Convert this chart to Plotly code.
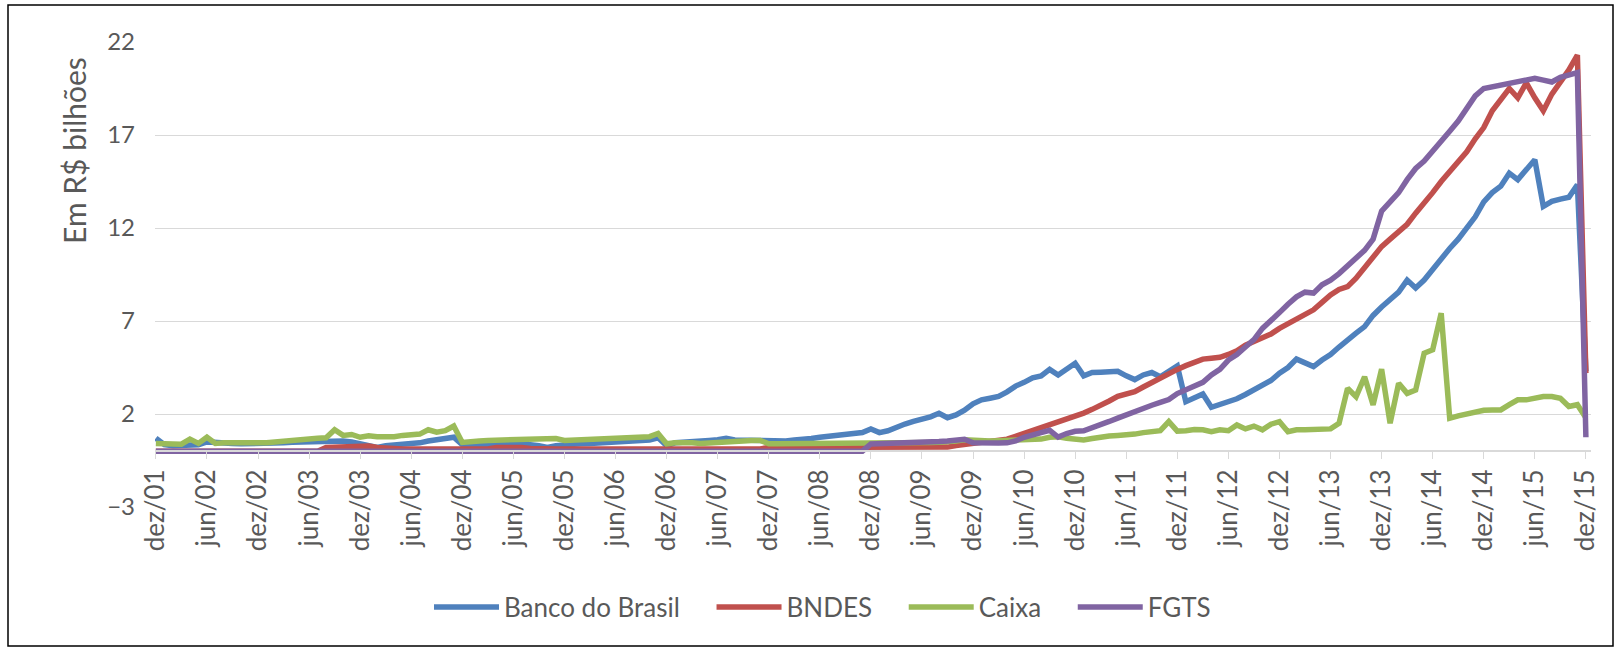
import plotly.graph_objects as go

# ---- categories (monthly, dez/01 .. dez/15) ----
month_abbr = ["jan", "fev", "mar", "abr", "mai", "jun", "jul", "ago", "set", "out", "nov", "dez"]
months = ["dez/01"] + [f"{m}/{y:02d}" for y in range(2, 16) for m in month_abbr]

tick_labels = ["dez/01", "jun/02", "dez/02", "jun/03", "dez/03", "jun/04", "dez/04", "jun/05",
               "dez/05", "jun/06", "dez/06", "jun/07", "dez/07", "jun/08", "dez/08", "jun/09",
               "dez/09", "jun/10", "dez/10", "jun/11", "dez/11", "jun/12", "dez/12", "jun/13",
               "dez/13", "jun/14", "dez/14", "jun/15", "dez/15"]

y_ticks = [-3, 2, 7, 12, 17, 22]

# ---- series values (R$ bilhões) ----
banco_do_brasil = [
    0.7, 0.35, 0.3, 0.3, 0.32, 0.35, 0.5, 0.45, 0.45, 0.42, 0.4, 0.4,
    0.4, 0.42, 0.45, 0.45, 0.48, 0.5, 0.52, 0.55, 0.55, 0.55, 0.55, 0.5,
    0.4, 0.35, 0.2, 0.3, 0.32, 0.35, 0.4, 0.45, 0.55, 0.62, 0.68, 0.75,
    0.35, 0.38, 0.4, 0.38, 0.35, 0.35, 0.35, 0.4, 0.35, 0.3, 0.2, 0.3,
    0.35, 0.38, 0.4, 0.42, 0.45, 0.48, 0.5, 0.5, 0.52, 0.55, 0.6, 0.72,
    0.3, 0.45, 0.5, 0.53, 0.55, 0.58, 0.62, 0.7, 0.6, 0.58, 0.58, 0.6,
    0.55, 0.5, 0.55, 0.6, 0.62, 0.68, 0.75, 0.8, 0.85, 0.93, 0.93, 1.0,
    1.19, 1.0, 1.1, 1.3, 1.46, 1.6, 1.72, 1.85, 2.04, 1.8, 1.95, 2.2,
    2.55, 2.76, 2.85, 2.95, 3.19, 3.5, 3.7, 3.95, 4.05, 4.4, 4.1, 4.4,
    4.73, 4.05, 4.23, 4.25, 4.25, 4.3, 4.05, 3.85, 4.1, 4.23, 4.0, 4.3,
    4.58, 2.66, 2.9, 3.08, 2.36, 2.5, 2.7, 2.82, 3.05, 3.3, 3.5, 3.8,
    4.2, 4.5, 4.95, 4.75, 4.55, 4.9, 5.2, 5.6, 6.0, 6.35, 6.7, 7.3,
    7.75, 8.2, 8.55, 9.2, 8.77, 9.2, 9.8, 10.35, 10.9, 11.4, 11.95, 12.6,
    13.4, 13.9, 14.25, 14.95, 14.6, 15.1, 15.67, 13.16, 13.43, 13.55, 13.65, 14.33,
    4.3,
]

bndes = [
    0, 0, 0, 0, 0, 0, 0, 0, 0, 0, 0, 0,
    0, 0, 0, 0, 0, 0, 0, 0, 0.2, 0.22, 0.2, 0.2,
    0.25, 0.28, 0.2, 0.15, 0.12, 0.12, 0.12, 0.12, 0.12, 0.12, 0.12, 0.12,
    0.12, 0.12, 0.12, 0.12, 0.2, 0.22, 0.2, 0.2, 0.15, 0.12, 0.12, 0.12,
    0.12, 0.12, 0.12, 0.12, 0.12, 0.12, 0.12, 0.12, 0.12, 0.12, 0.12, 0.12,
    0.12, 0.12, 0.12, 0.12, 0.12, 0.12, 0.12, 0.12, 0.12, 0.12, 0.12, 0.12,
    0.2, 0.2, 0.2, 0.2, 0.2, 0.2, 0.2, 0.2, 0.2, 0.2, 0.2, 0.2,
    0.22, 0.22, 0.22, 0.22, 0.22, 0.22, 0.22, 0.22, 0.22, 0.22, 0.3, 0.35,
    0.42, 0.48, 0.55, 0.6, 0.65, 0.8, 0.95, 1.1, 1.25, 1.4, 1.55, 1.7,
    1.85, 2.05, 2.25, 2.45, 2.7, 2.95, 3.1, 3.2, 3.45, 3.7, 3.95, 4.15,
    4.4, 4.6, 4.8, 4.95, 5.0, 5.05, 5.2, 5.4, 5.7, 5.9, 6.1, 6.3,
    6.6, 6.85, 7.05, 7.3, 7.6, 8.0, 8.4, 8.7, 8.85, 9.3, 9.9, 10.5,
    11.0, 11.4, 11.8, 12.2, 12.8, 13.3, 13.9, 14.5, 15.0, 15.5, 16.1, 16.8,
    17.4, 18.3, 18.9, 19.5, 19.0, 19.8, 19.0, 18.3, 19.2, 19.8, 20.5, 21.3,
    4.2,
]

caixa = [
    0.42, 0.4, 0.38, 0.38, 0.65, 0.42, 0.75, 0.42, 0.45, 0.45, 0.45, 0.42,
    0.42, 0.45, 0.5, 0.55, 0.58, 0.65, 0.68, 0.7, 0.72, 1.15, 0.85, 0.9,
    0.75, 0.83, 0.78, 0.75, 0.78, 0.85, 0.92, 0.92, 1.15, 1.02, 1.1, 1.35,
    0.47, 0.48, 0.55, 0.58, 0.6, 0.62, 0.62, 0.65, 0.68, 0.7, 0.66, 0.68,
    0.58, 0.6, 0.6, 0.62, 0.65, 0.68, 0.7, 0.72, 0.77, 0.77, 0.78, 0.95,
    0.4, 0.45, 0.47, 0.45, 0.42, 0.45, 0.5, 0.55, 0.58, 0.58, 0.58, 0.58,
    0.4, 0.4, 0.4, 0.4, 0.4, 0.4, 0.4, 0.4, 0.4, 0.4, 0.4, 0.4,
    0.4, 0.42, 0.42, 0.43, 0.44, 0.45, 0.46, 0.47, 0.48, 0.5, 0.55, 0.62,
    0.58, 0.55, 0.55, 0.56, 0.58, 0.6, 0.62, 0.64, 0.65, 0.75, 0.78, 0.7,
    0.62, 0.6, 0.68, 0.78, 0.82, 0.85, 0.87, 0.92, 1.0, 1.05, 1.1, 1.59,
    1.08, 1.1, 1.17, 1.15, 1.05, 1.15, 1.1, 1.41, 1.2, 1.35, 1.15, 1.45,
    1.59, 1.05, 1.15, 1.15, 1.15, 1.15, 1.2, 1.5, 3.38, 2.93, 4.0, 2.49,
    4.41, 1.5, 3.65, 3.11, 3.29, 5.27, 5.45, 7.42, 1.77, 1.9, 2.0, 2.1,
    2.2, 2.22, 2.22, 2.5, 2.76, 2.76, 2.85, 2.94, 2.94, 2.85, 2.4, 2.5,
    1.8,
]

fgts = [
    0, 0, 0, 0, 0, 0, 0, 0, 0, 0, 0, 0,
    0, 0, 0, 0, 0, 0, 0, 0, 0, 0, 0, 0,
    0, 0, 0, 0, 0, 0, 0, 0, 0, 0, 0, 0,
    0, 0, 0, 0, 0, 0, 0, 0, 0, 0, 0, 0,
    0, 0, 0, 0, 0, 0, 0, 0, 0, 0, 0, 0,
    0, 0, 0, 0, 0, 0, 0, 0, 0, 0, 0, 0,
    0, 0, 0, 0, 0, 0, 0, 0, 0, 0, 0, 0,
    0.39, 0.4, 0.4, 0.4, 0.41, 0.42, 0.45, 0.5, 0.52, 0.55, 0.6, 0.64,
    0.45, 0.43, 0.43, 0.44, 0.45, 0.55, 0.75, 0.9, 1.0, 1.12, 0.76, 0.95,
    1.07, 1.1, 1.25, 1.45, 1.6, 1.78, 1.97, 2.15, 2.3, 2.47, 2.62, 2.78,
    3.1, 3.3, 3.48, 3.7, 4.1, 4.4, 4.9, 5.2, 5.6, 6.0, 6.6, 7.0,
    7.45, 7.9, 8.3, 8.55, 8.5, 8.95, 9.2, 9.55, 9.95, 10.4, 10.8, 11.4,
    12.9, 13.4, 13.9, 14.6, 15.2, 15.6, 16.1, 16.7, 17.2, 17.75, 18.4, 19.1,
    19.5, 19.6, 19.7, 19.8, 19.9, 20.0, 20.05, 19.95, 19.85, 20.1, 20.2, 20.35,
    0.75,
]

series_names = ["Banco do Brasil", "BNDES", "Caixa", "FGTS"]
series_values = [banco_do_brasil, bndes, caixa, fgts]
series_colors = ["#4F81BD", "#C0504D", "#9BBB59", "#8064A2"]

FONT = "Lato"
TXT = "#595959"
PAD = "\u00a0" * 4  # spacing after each legend entry

fig = go.Figure()
for i, (name, vals, col) in enumerate(zip(series_names, series_values, series_colors)):
    label = name + (PAD if i < len(series_names) - 1 else "")
    fig.add_trace(go.Scatter(x=months, y=vals, name=label, mode="lines",
                             line=dict(color=col, width=5.5)))

W, H = 1620, 652
ml, mr, mt, mb = 155, 29, 42, 145
pw, ph = W - ml - mr, H - mt - mb

def px_x(x):
    return (x - ml) / pw

def px_y(y):
    return (H - mb - y) / ph

fig.update_layout(
    width=W, height=H,
    margin=dict(l=ml, r=mr, t=mt, b=mb),
    paper_bgcolor="white", plot_bgcolor="white",
    font=dict(family=FONT, color=TXT, size=24),
    showlegend=True,
    legend=dict(orientation="h", x=px_x(429), xanchor="left", y=px_y(607), yanchor="middle",
                font=dict(size=26, color=TXT), itemwidth=65, traceorder="normal"),
    xaxis=dict(type="category", range=[-0.1, 168.6], anchor="free",
               position=3 / 25, showgrid=False, showline=True, linecolor="#d9d9d9",
               linewidth=1.5, ticks="outside", ticklen=7, tickcolor="#d9d9d9",
               tickmode="array", tickvals=tick_labels, ticktext=tick_labels,
               tickangle=-90, tickfont=dict(size=26, color=TXT), zeroline=False),
    yaxis=dict(range=[-3, 22], tickmode="array", tickvals=y_ticks, showgrid=True,
               gridcolor="#d9d9d9", gridwidth=1.3, zeroline=False, showline=False,
               tickfont=dict(size=24, color=TXT), ticklabelstandoff=19),
    annotations=[dict(text="Em R$ bilhões", xref="paper", yref="paper",
                      x=px_x(74), y=px_y(151), textangle=-90, showarrow=False,
                      font=dict(size=30, color=TXT), xanchor="center", yanchor="middle")],
    shapes=[dict(type="rect", xref="paper", yref="paper",
                 x0=px_x(8), x1=px_x(1613), y0=px_y(646), y1=px_y(5),
                 line=dict(color="black", width=1.5), fillcolor="rgba(0,0,0,0)", layer="below")],
)

fig.write_html("out.html", config={"displayModeBar": False},
               post_script="document.body.style.margin='0';")
